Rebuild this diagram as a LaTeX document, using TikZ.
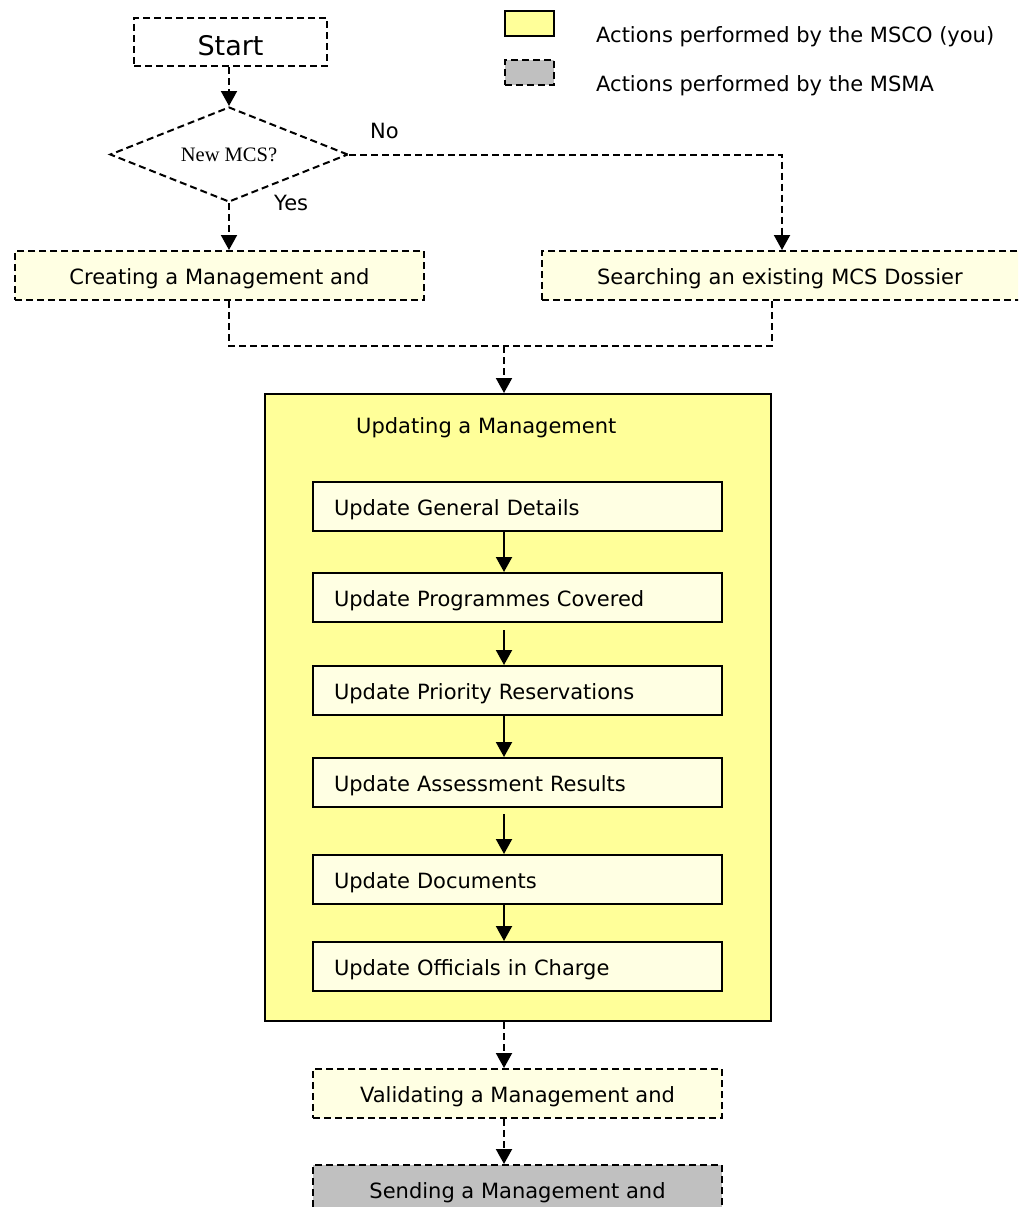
\documentclass[tikz,border=0pt]{standalone}
\usepackage{fontspec}
\setmainfont{DejaVu Sans}
\newfontfamily\serifface{Liberation Serif}
\usetikzlibrary{arrows.meta,shapes.geometric}
\definecolor{bigyellow}{HTML}{FFFF99}
\definecolor{paleyellow}{HTML}{FFFFE3}
\definecolor{greyfill}{HTML}{C0C0C0}
\begin{document}
\begin{tikzpicture}[x=1pt,y=-1pt,
  every node/.style={font=\fontsize{21}{25}\selectfont},
  dsh/.style={dash pattern=on 7pt off 4pt},
  boxbase/.style={draw, line width=2pt, inner sep=0pt, minimum height=49pt,
    text height=33pt, text depth=16pt, anchor=north west},
  dbox/.style={boxbase, dsh, fill=paleyellow},
  greybox/.style={boxbase, dsh, fill=greyfill},
  innerbox/.style={boxbase, fill=paleyellow, minimum width=409pt,
    inner xsep=21pt, text width=367pt, align=left},
  dline/.style={line width=2pt, dsh},
  sline/.style={line width=2pt},
  arr/.style={-{Triangle[length=15pt,width=16pt]}},
  txt/.style={anchor=base west, inner sep=0pt}
]
\useasboundingbox (0,0) rectangle (1018,1207);
\clip (0,0) rectangle (1018,1207);

% legend
\node[draw, line width=1.8pt, fill=bigyellow, minimum width=49pt, minimum height=25pt,
  inner sep=0pt, anchor=north west] (lg1) at (504,10) {};
\node[draw, line width=1.8pt, dsh, fill=greyfill, minimum width=49pt, minimum height=25pt,
  inner sep=0pt, anchor=north west] (lg2) at (504,59) {};
\node[txt] (lt1) at (596,43) {Actions performed by the MSCO (you)};
\node[txt] (lt2) at (596,91) {Actions performed by the MSMA};

% top part
\node[boxbase, dsh, minimum width=193pt, minimum height=48pt, text height=38pt, text depth=10pt,
  font=\fontsize{27}{32}\selectfont] (start) at (133,17) {Start};
\node[diamond, draw, dsh, line width=2pt, minimum width=238pt, minimum height=95pt,
  inner sep=0pt, aspect=2.5, font=\serifface\fontsize{20.5}{24}\selectfont] (dec) at (229,154.5) {New MCS?};
\node[txt] (no) at (370,138) {No};
\node[txt] (yes) at (274,210) {Yes};

\node[dbox, minimum width=409pt] (creating) at (14,250) {Creating a Management and};
\node[dbox, minimum width=499pt, inner xsep=55pt, text width=389pt, align=left] (searching) at (541,250)
  {Searching an existing MCS Dossier};

% big box
\node[draw, line width=2pt, fill=bigyellow, minimum width=506pt, minimum height=627pt,
  inner sep=0pt, anchor=north west] (big) at (264,393) {};
\node[txt] (title) at (356,433) {Updating a Management};

\node[innerbox] (gen) at (312,481) {Update General Details};
\node[innerbox] (prog) at (312,572) {Update Programmes Covered};
\node[innerbox] (prio) at (312,665) {Update Priority Reservations};
\node[innerbox] (assess) at (312,757) {Update Assessment Results};
\node[innerbox] (docs) at (312,854) {Update Documents};
\node[innerbox] (off) at (312,941) {Update Officials in Charge};

\node[dbox, minimum width=409pt] (val) at (312,1068) {Validating a Management and};
\node[greybox, minimum width=409pt] (send) at (312,1164) {Sending a Management and};

% connectors
\coordinate (j) at (504,346);
\coordinate (snin) at (782,250);
\draw[dline,arr] (start.south -| dec.north) -- (dec.north);
\draw[dline,arr] (dec.south) -- (dec.south |- creating.north);
\draw[dline,arr] (dec.east) -| (snin);
\draw[dline] (dec.south |- creating.south) |- (j);
\draw[dline] (big.east |- searching.south) |- (j);
\draw[dline,arr] (j) -- (j |- big.north);

\draw[sline,arr] (j |- gen.south) -- (j |- prog.north);
\draw[sline,arr,shorten <=7pt] (j |- prog.south) -- (j |- prio.north);
\draw[sline,arr] (j |- prio.south) -- (j |- assess.north);
\draw[sline,arr,shorten <=6pt] (j |- assess.south) -- (j |- docs.north);
\draw[sline,arr] (j |- docs.south) -- (j |- off.north);

\draw[dline,arr] (j |- big.south) -- (j |- val.north);
\draw[dline,arr] (j |- val.south) -- (j |- send.north);
\end{tikzpicture}
\end{document}
